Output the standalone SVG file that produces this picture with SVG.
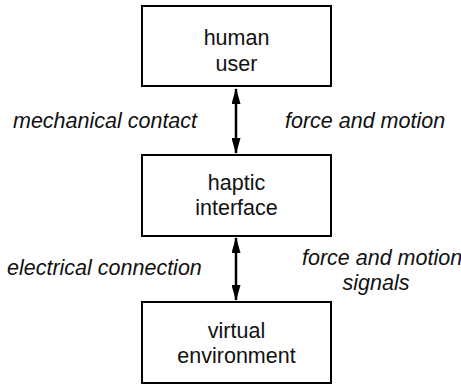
<svg xmlns="http://www.w3.org/2000/svg" width="461" height="385" viewBox="0 0 461 385">
<defs>
<style>
.box{fill:#fff;stroke:#000;stroke-width:2}
.t{font-family:"Liberation Sans",Arial,sans-serif;font-size:21.5px;fill:#111;text-anchor:middle}
.l{font-family:"Liberation Sans",Arial,sans-serif;font-size:21.5px;font-style:italic;fill:#111}
.c{stroke:#000;stroke-width:2.5;fill:none;marker-start:url(#ah);marker-end:url(#ah)}
</style>
<marker id="ah" viewBox="0 0 16 9" refX="15" refY="4.5" markerWidth="16" markerHeight="9" markerUnits="userSpaceOnUse" orient="auto-start-reverse">
<path d="M0,0 L16,4.5 L0,9 Z" fill="#000"/>
</marker>
</defs>
<rect width="461" height="385" fill="#fff"/>
<g id="connectors">
<line class="c" x1="236" y1="89" x2="236" y2="153"/>
<line class="c" x1="236" y1="238" x2="236" y2="300"/>
</g>
<g id="human-user">
<rect class="box" x="142" y="6" width="189" height="80"/>
<text class="t" x="236.5" y="45">human</text>
<text class="t" x="236.5" y="71">user</text>
</g>
<g id="haptic-interface">
<rect class="box" x="142" y="155" width="189" height="81"/>
<text class="t" x="236.5" y="190">haptic</text>
<text class="t" x="236.5" y="215">interface</text>
</g>
<g id="virtual-environment">
<rect class="box" x="142" y="302" width="189" height="81"/>
<text class="t" x="236.5" y="338">virtual</text>
<text class="t" x="236.5" y="363">environment</text>
</g>
<g id="labels">
<text class="l" x="13" y="128">mechanical contact</text>
<text class="l" x="285" y="128">force and motion</text>
<text class="l" x="7" y="275">electrical connection</text>
<text class="l" x="302" y="265">force and motion</text>
<text class="l" x="376" y="290" text-anchor="middle">signals</text>
</g>
</svg>
